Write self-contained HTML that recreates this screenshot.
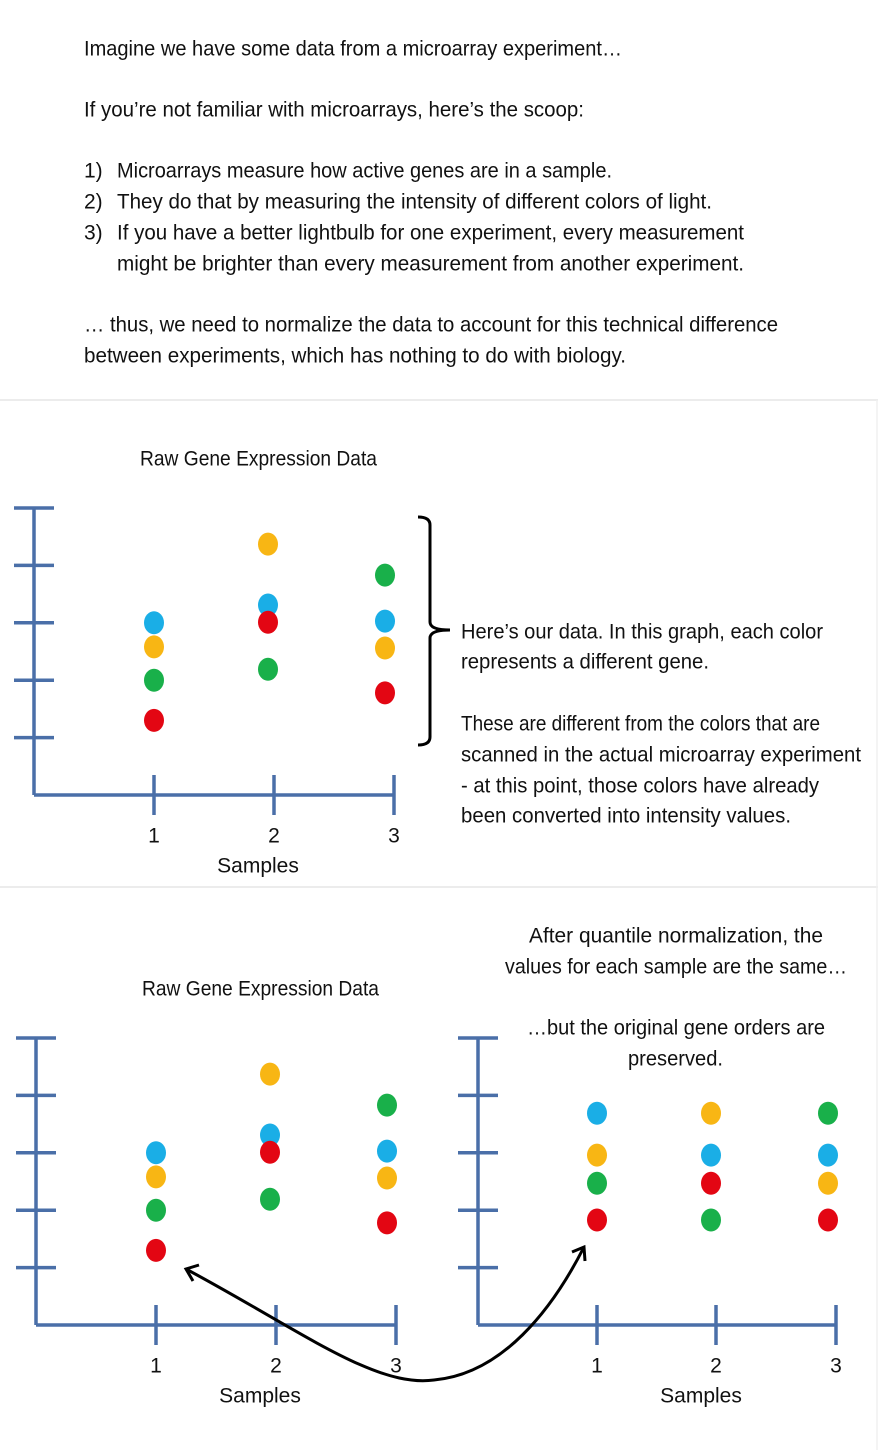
<!DOCTYPE html>
<html><head><meta charset="utf-8"><style>
html,body{margin:0;padding:0;background:#fff;}
svg{display:block;}
text{font-family:"Liberation Sans Narrow","Liberation Sans",sans-serif;font-size:21px;fill:#111;dominant-baseline:central;}
</style></head><body>
<svg id="s" width="880" height="1450" viewBox="0 0 880 1450" xmlns="http://www.w3.org/2000/svg">
<g>
<text x="84" y="49" textLength="538" lengthAdjust="spacingAndGlyphs">Imagine we have some data from a microarray experiment…</text>
<text x="84" y="110" textLength="500" lengthAdjust="spacingAndGlyphs">If you’re not familiar with microarrays, here’s the scoop:</text>
<text x="84" y="171">1)</text>
<text x="117" y="171" textLength="495" lengthAdjust="spacingAndGlyphs">Microarrays measure how active genes are in a sample.</text>
<text x="84" y="202">2)</text>
<text x="117" y="202" textLength="595" lengthAdjust="spacingAndGlyphs">They do that by measuring the intensity of different colors of light.</text>
<text x="84" y="233">3)</text>
<text x="117" y="233" textLength="627" lengthAdjust="spacingAndGlyphs">If you have a better lightbulb for one experiment, every measurement</text>
<text x="117" y="264" textLength="627" lengthAdjust="spacingAndGlyphs">might be brighter than every measurement from another experiment.</text>
<text x="84" y="325" textLength="694" lengthAdjust="spacingAndGlyphs">… thus, we need to normalize the data to account for this technical difference</text>
<text x="84" y="356" textLength="542" lengthAdjust="spacingAndGlyphs">between experiments, which has nothing to do with biology.</text>
</g>
<line x1="0" y1="400" x2="878" y2="400" stroke="#e6e6e6" stroke-width="1.5"/>
<line x1="0" y1="887" x2="878" y2="887" stroke="#e6e6e6" stroke-width="1.5"/>
<line x1="877" y1="400" x2="877" y2="1450" stroke="#f0f0f0" stroke-width="1.5"/>

<text x="140" y="459" textLength="237" lengthAdjust="spacingAndGlyphs">Raw Gene Expression Data</text>
<g>
<text x="461" y="632" textLength="362" lengthAdjust="spacingAndGlyphs">Here’s our data. In this graph, each color</text>
<text x="461" y="662" textLength="248" lengthAdjust="spacingAndGlyphs">represents a different gene.</text>
<text x="461" y="724" textLength="359" lengthAdjust="spacingAndGlyphs">These are different from the colors that are</text>
<text x="461" y="755" textLength="400" lengthAdjust="spacingAndGlyphs">scanned in the actual microarray experiment</text>
<text x="461" y="786" textLength="358" lengthAdjust="spacingAndGlyphs">- at this point, those colors have already</text>
<text x="461" y="816" textLength="330" lengthAdjust="spacingAndGlyphs">been converted into intensity values.</text>
</g>
<path d="M418,517 Q430,517 430,525 L430,622 Q430,630 450,630 Q430,630 430,638 L430,737 Q430,745 418,745" fill="none" stroke="#000" stroke-width="3"/>

<g>
<text x="529" y="936" textLength="294" lengthAdjust="spacingAndGlyphs">After quantile normalization, the</text>
<text x="505" y="967" textLength="342" lengthAdjust="spacingAndGlyphs">values for each sample are the same…</text>
<text x="527" y="1028" textLength="298" lengthAdjust="spacingAndGlyphs">…but the original gene orders are</text>
<text x="628" y="1059" textLength="95" lengthAdjust="spacingAndGlyphs">preserved.</text>
</g>
<text x="142" y="989" textLength="237" lengthAdjust="spacingAndGlyphs">Raw Gene Expression Data</text>

<g id="charts"></g>
<path d="M186,1269 C300,1330 375,1388 434,1380 C502,1374 552,1310 584,1247" fill="none" stroke="#000" stroke-width="3"/>
<path d="M199,1265 L186,1269 L193,1281" fill="none" stroke="#000" stroke-width="3"/>
<path d="M572,1252 L584,1247 L585,1261" fill="none" stroke="#000" stroke-width="3"/>
</svg>
<script>
const samples = ["1","2","3"];
const genes = ["blue","orange","green","red"];
const geneColors = ["#1aaee6","#f8b614","#19b04a","#e30613"];
// raw values per sample: [blue, orange, green, red]
const rawSample1 = [3.0, 2.58, 2.0, 1.3];
const rawSample2 = [3.31, 4.37, 2.19, 3.01];
const rawSample3 = [3.03, 2.56, 3.83, 1.78];
// quantile-normalized values
const normSample1 = [3.69, 2.96, 2.47, 1.83];
const normSample2 = [2.96, 3.69, 1.83, 2.47];
const normSample3 = [2.96, 2.47, 3.69, 1.83];
const yTicks = [1,2,3,4,5];

const NS="http://www.w3.org/2000/svg";
const root=document.getElementById('charts');
function mk(tag,attrs,parent){const e=document.createElementNS(NS,tag);for(const k in attrs)e.setAttribute(k,attrs[k]);parent.appendChild(e);return e;}

function chart(name, ox, oy, xs, data, dotDx, samplesX){
  const g=mk('g',{},root);
  
  
  const unit=57.4;
  const yScale=v=>oy-v*unit;
  const xScale=i=>xs[i];
  const ax='#4a6fa8';
  const sw=3.5;
  const yAxis=mk('line',{x1:ox,y1:yScale(5),x2:ox,y2:oy,stroke:ax,'stroke-width':sw},g);
  
  
  const xAxis=mk('line',{x1:ox,y1:oy,x2:xs[2],y2:oy,stroke:ax,'stroke-width':sw},g);
  
  
  yTicks.forEach(t=>{
    const l=mk('line',{x1:ox-20,y1:yScale(t),x2:ox+20,y2:yScale(t),stroke:ax,'stroke-width':sw},g);
    
    
  });
  samples.forEach((s,i)=>{
    const l=mk('line',{x1:xScale(i),y1:oy-20,x2:xScale(i),y2:oy+20,stroke:ax,'stroke-width':sw},g);
    
    
    const t=mk('text',{x:xScale(i),y:oy+41,'text-anchor':'middle'},g);
    t.textContent=s;
    
    
  });
  const st=mk('text',{x:samplesX,y:oy+71,'text-anchor':'middle'},g);
  st.textContent='Samples';
  
  
  data.forEach((vals,i)=>{
    vals.forEach((v,j)=>{
      const c=mk('ellipse',{cx:xScale(i)+dotDx[i],cy:yScale(v),rx:10,ry:11.5,fill:geneColors[j]},g);
      
      
    });
  });
}
chart('raw-chart-top',34,795,[154,274,394],[rawSample1,rawSample2,rawSample3],[0,-6,-9],258);
chart('raw-chart-bottom',36,1325,[156,276,396],[rawSample1,rawSample2,rawSample3],[0,-6,-9],260);
chart('normalized-chart',478,1325,[597,716,836],[normSample1,normSample2,normSample3],[0,-5,-8],701);
</script>
</body></html>
